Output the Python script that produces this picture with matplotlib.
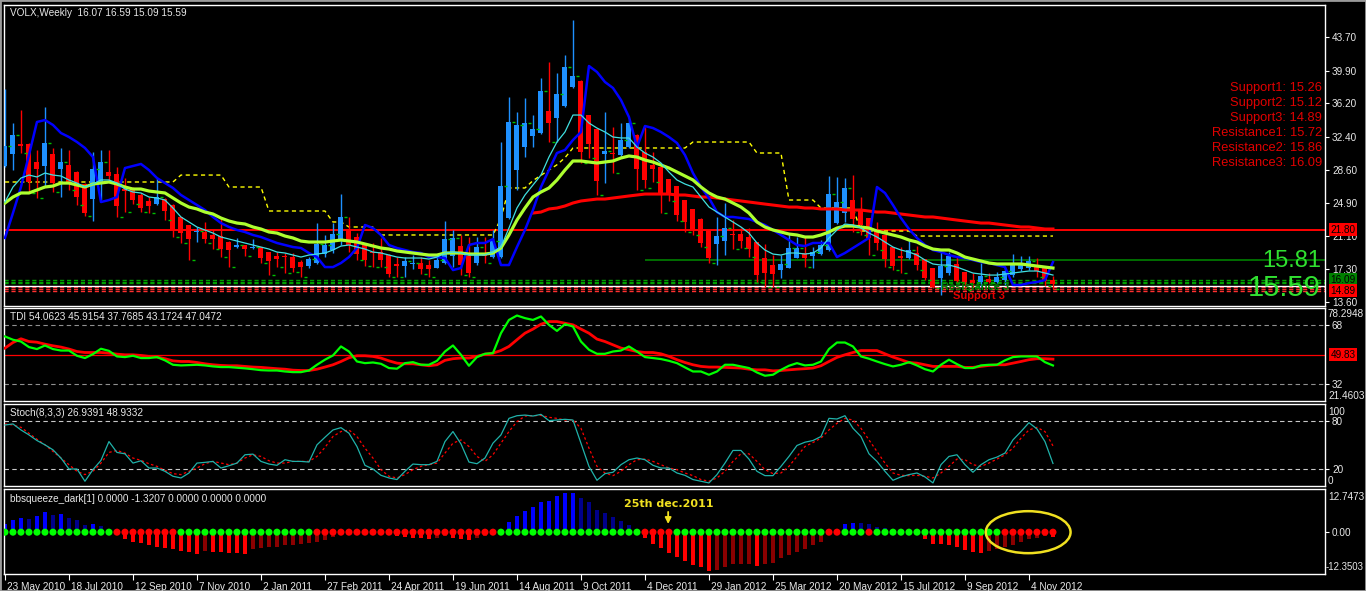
import matplotlib
matplotlib.use('Agg')
import matplotlib.pyplot as plt
import numpy as np
from matplotlib.patches import Ellipse, Rectangle

# ---------------- DATA ----------------
x_labels = ["23 May 2010", "18 Jul 2010", "12 Sep 2010", "7 Nov 2010", "2 Jan 2011",
            "27 Feb 2011", "24 Apr 2011", "19 Jun 2011", "14 Aug 2011", "9 Oct 2011",
            "4 Dec 2011", "29 Jan 2012", "25 Mar 2012", "20 May 2012", "15 Jul 2012",
            "9 Sep 2012", "4 Nov 2012"]

opens = [29.06, 30.42, 31.56, 31.56, 29.51, 29.06, 30.42, 28.72, 29.17, 28.38,
         27.01, 25.30, 27.12, 28.38, 28.15, 26.44, 26.33, 25.76, 25.08, 24.73,
         25.30, 24.62, 23.26, 22.35, 21.55, 21.55, 21.21, 21.09, 20.41, 19.84,
         20.07, 19.73, 19.84, 19.27, 18.82, 18.82, 18.70, 18.13, 17.68, 18.02,
         19.04, 19.50, 20.52, 21.89, 20.98, 20.07, 19.27, 19.27, 18.93, 17.91,
         17.68, 17.91, 18.02, 17.79, 17.45, 18.02, 18.82, 19.95, 18.82, 18.02,
         18.93, 18.70, 18.70, 23.14, 28.60, 31.22, 32.47, 32.81, 35.32, 34.52,
         35.89, 38.05, 38.73, 34.86, 33.27, 30.42, 30.54, 30.31, 31.22, 32.59,
         30.65, 29.17, 28.95, 27.58, 26.78, 25.19, 24.17, 23.03, 21.66, 20.18,
         20.52, 21.32, 21.32, 20.98, 20.41, 18.59, 17.79, 17.22, 17.45, 18.59,
         19.16, 18.82, 19.04, 19.50, 22.57, 23.71, 25.19, 24.17, 23.14, 21.89,
         21.21, 19.84, 18.82, 18.59, 19.16, 18.47, 17.45, 16.31, 16.88, 17.91,
         17.00, 16.08, 15.86, 16.20, 15.86, 16.08, 16.65, 17.34, 17.45, 17.79,
         17.45, 16.07]
highs = [37.82, 33.95, 35.43, 31.70, 30.88, 35.77, 31.11, 31.11, 30.88, 28.50,
         27.12, 30.65, 30.88, 30.88, 28.95, 27.69, 26.67, 25.99, 25.53, 27.69,
         25.42, 24.70, 23.30, 22.40, 22.12, 22.69, 21.78, 23.26, 20.50, 20.87,
         20.10, 20.75, 19.90, 19.30, 19.27, 19.16, 19.16, 18.36, 18.70, 22.57,
         21.21, 22.57, 25.87, 23.26, 21.43, 20.10, 20.30, 20.87, 19.00, 18.70,
         18.70, 18.93, 18.70, 18.36, 18.93, 22.80, 21.78, 21.21, 20.98, 20.98,
         20.98, 21.78, 31.79, 36.91, 35.20, 36.80, 34.86, 39.07, 40.89, 39.64,
         41.69, 45.67, 38.80, 34.90, 33.30, 35.20, 33.50, 33.95, 34.29, 32.65,
         33.50, 30.65, 29.00, 27.60, 26.80, 25.20, 24.20, 23.10, 21.70, 23.26,
         24.85, 22.91, 22.00, 22.00, 20.45, 20.18, 18.93, 18.93, 21.43, 20.98,
         20.98, 19.84, 20.64, 27.92, 27.81, 27.69, 28.03, 25.53, 23.20, 22.69,
         21.25, 19.90, 19.84, 20.64, 19.95, 18.50, 17.50, 19.27, 19.27, 18.82,
         17.05, 16.88, 18.02, 16.88, 17.00, 17.56, 19.04, 18.82, 18.82, 18.59,
         17.56, 16.59]
lows = [28.95, 28.60, 30.54, 25.99, 25.42, 26.67, 26.10, 25.53, 26.33, 24.62,
        23.37, 22.80, 25.19, 27.24, 23.26, 23.82, 24.73, 23.82, 23.71, 24.62,
        22.91, 20.98, 20.30, 18.36, 20.41, 20.30, 19.61, 18.70, 17.56, 19.73,
        18.82, 19.61, 18.02, 16.65, 17.56, 16.88, 17.00, 16.43, 17.45, 17.90,
        18.70, 19.16, 20.07, 19.27, 18.36, 17.68, 17.56, 17.56, 16.43, 16.43,
        16.43, 17.34, 16.77, 16.43, 17.40, 17.91, 17.56, 16.65, 16.43, 17.79,
        18.02, 18.59, 18.60, 23.03, 26.33, 30.08, 31.22, 32.70, 31.79, 31.79,
        35.77, 37.93, 29.40, 29.97, 25.76, 27.12, 28.26, 30.08, 31.11, 26.33,
        26.56, 27.24, 23.71, 25.08, 22.80, 21.55, 21.21, 19.84, 18.02, 17.79,
        18.93, 19.61, 19.73, 18.70, 15.86, 15.29, 15.29, 16.31, 17.40, 18.55,
        17.56, 17.45, 18.93, 19.39, 22.50, 22.69, 21.55, 21.21, 18.93, 19.50,
        17.56, 17.22, 16.88, 18.47, 17.22, 16.08, 15.18, 14.38, 16.65, 15.86,
        14.95, 15.29, 15.29, 15.74, 15.74, 15.52, 16.43, 17.11, 17.22, 16.43,
        15.40, 15.09]
closes = [31.34, 32.59, 31.34, 27.24, 28.72, 31.68, 27.12, 29.51, 27.12, 25.53,
          23.71, 28.72, 29.51, 27.92, 24.51, 26.21, 25.19, 24.28, 24.51, 25.53,
          23.94, 21.78, 21.43, 20.75, 21.66, 20.75, 20.75, 19.61, 19.50, 20.07,
          19.61, 19.84, 18.59, 18.25, 18.47, 18.70, 17.45, 17.56, 18.47, 20.18,
          20.07, 21.32, 23.26, 20.07, 19.04, 18.36, 19.16, 18.36, 16.77, 17.68,
          18.25, 18.02, 17.34, 17.34, 18.36, 20.75, 20.87, 17.79, 16.88, 19.84,
          18.82, 20.52, 26.78, 34.07, 33.73, 33.95, 33.27, 37.59, 33.95, 37.25,
          40.32, 39.30, 30.65, 31.56, 27.35, 30.77, 30.42, 32.02, 33.95, 28.72,
          27.47, 28.72, 25.99, 25.99, 23.48, 22.69, 21.89, 20.30, 18.59, 21.09,
          22.00, 21.21, 20.52, 19.61, 16.65, 16.88, 16.77, 17.91, 19.73, 19.73,
          18.59, 19.27, 20.07, 25.87, 24.96, 26.56, 23.03, 22.35, 20.87, 20.30,
          18.47, 17.68, 18.59, 19.50, 17.79, 16.31, 15.29, 17.68, 18.82, 15.97,
          15.86, 15.74, 16.54, 15.86, 16.43, 17.11, 17.91, 17.91, 18.25, 17.11,
          15.97, 15.59]

ma_fast = [24.96, 26.67, 27.69, 28.03, 27.81, 28.26, 28.03, 27.92, 27.47, 27.12,
           26.67, 27.01, 27.47, 27.47, 27.12, 26.44, 26.10, 25.99, 25.53, 25.42,
           25.19, 24.28, 23.26, 22.69, 22.12, 21.78, 21.43, 20.98, 20.75, 20.52,
           20.30, 20.07, 19.84, 19.61, 19.27, 19.16, 18.93, 18.70, 18.93, 19.04,
           19.16, 19.50, 19.95, 20.07, 19.84, 19.61, 19.27, 19.16, 18.93, 18.70,
           18.59, 18.59, 18.59, 18.47, 18.70, 19.16, 19.27, 19.16, 18.93, 18.93,
           18.93, 19.27, 19.84, 22.00, 24.28, 25.76, 26.90, 28.03, 30.08, 31.79,
           32.93, 34.86, 34.86, 33.95, 33.38, 32.93, 32.36, 32.25, 32.25, 31.22,
           30.54, 30.08, 29.40, 28.38, 27.47, 27.01, 26.67, 25.53, 24.39, 23.82,
           23.26, 22.69, 22.12, 21.43, 20.30, 19.50, 19.04, 18.93, 19.16, 19.16,
           19.04, 19.16, 19.73, 20.87, 21.78, 22.46, 22.35, 22.00, 21.43, 20.98,
           20.41, 19.84, 19.50, 19.27, 18.93, 18.36, 17.91, 17.79, 17.79, 17.56,
           17.22, 16.88, 16.77, 16.65, 16.65, 16.77, 16.88, 17.00, 17.11, 17.11,
           16.88, 16.65]
ma_slow = [24.85, 25.53, 25.99, 25.99, 26.33, 26.67, 26.78, 27.12, 27.12, 26.90,
           26.67, 27.01, 27.12, 27.24, 27.01, 26.67, 26.44, 26.44, 26.21, 26.10,
           25.99, 25.42, 24.85, 24.39, 24.17, 23.82, 23.60, 23.14, 22.80, 22.57,
           22.46, 22.12, 21.89, 21.55, 21.43, 21.09, 20.87, 20.52, 20.41, 20.41,
           20.41, 20.52, 20.64, 20.52, 20.41, 20.18, 19.95, 19.73, 19.61, 19.39,
           19.27, 19.16, 19.04, 18.93, 18.93, 19.16, 19.16, 19.16, 19.04, 19.04,
           19.04, 19.16, 19.73, 21.21, 22.91, 24.28, 25.53, 26.10, 26.56, 27.47,
           28.60, 29.63, 29.63, 29.51, 29.40, 29.51, 29.63, 29.97, 30.20, 30.08,
           29.74, 29.51, 29.17, 28.83, 28.38, 27.92, 27.47, 26.67, 25.99, 25.53,
           25.30, 24.85, 24.39, 23.71, 22.69, 22.12, 21.78, 21.55, 21.32, 21.21,
           20.98, 20.98, 21.21, 21.55, 22.00, 22.23, 22.23, 22.12, 22.00, 21.66,
           21.43, 21.21, 20.98, 20.64, 20.41, 19.95, 19.61, 19.50, 19.50, 19.16,
           18.70, 18.47, 18.25, 18.02, 17.91, 17.91, 17.91, 17.91, 17.79, 17.68,
           17.56, 17.45]
band_blue = [20.87, 23.71, 26.67, 30.31, 34.07, 34.29, 33.73, 32.81, 32.36, 31.79,
             31.11, 30.08, 24.96, 25.19, 25.53, 28.83, 29.06, 29.29, 28.60, 27.69,
             27.12, 26.56, 25.76, 25.19, 24.62, 24.05, 23.26, 22.57, 22.12, 21.78,
             21.55, 21.21, 20.98, 20.64, 20.30, 20.07, 19.84, 19.73, 19.16, 18.70,
             17.56, 17.56, 18.02, 18.70, 19.73, 22.35, 22.00, 21.21, 20.07, 19.73,
             19.50, 19.27, 19.16, 18.70, 18.70, 18.59, 17.22, 17.45, 20.07, 20.30,
             20.30, 20.75, 17.79, 17.79, 19.84, 21.78, 24.05, 26.67, 28.60, 30.54,
             30.88, 32.02, 32.93, 40.44, 39.76, 38.62, 37.94, 36.57, 34.63, 31.22,
             33.61, 33.38, 32.93, 32.36, 31.68, 30.31, 28.26, 26.67, 25.42, 23.82,
             23.26, 23.26, 23.14, 23.03, 22.69, 22.35, 21.78, 21.21, 20.64, 20.07,
             19.95, 20.30, 20.30, 20.30, 18.70, 19.16, 19.73, 20.30, 20.87, 26.67,
             25.99, 24.62, 23.14, 21.89, 20.87, 20.07, 19.50, 19.27, 18.93, 18.70,
             18.59, 18.36, 18.13, 18.02, 17.79, 17.56, 15.52, 15.52, 15.74, 15.86,
             16.08, 18.13]
ma_long = [np.nan] * 66 + [
    23.71, 23.82, 24.17, 24.28, 24.51, 24.85, 25.08, 25.19, 25.30, 25.30,
    25.42, 25.53, 25.65, 25.76, 25.87, 25.87, 25.87, 25.87, 25.76, 25.76,
    25.65, 25.53, 25.53, 25.42, 25.30, 25.19, 25.08, 24.96, 24.85, 24.73,
    24.62, 24.51, 24.39, 24.39, 24.28, 24.28, 24.17, 24.17, 24.17, 24.05,
    24.05, 24.05, 23.94, 23.82, 23.82, 23.71, 23.60, 23.48, 23.37, 23.26,
    23.26, 23.14, 23.03, 22.91, 22.80, 22.69, 22.57, 22.57, 22.46, 22.35,
    22.23, 22.12, 22.12, 22.00, 21.89, 21.89]
step_yellow = ([27.24] * 22 + [28.03] * 6 + [26.67] * 5 + [23.94] * 8 + [22.69] * 2 +
               [22.12] * 4 + [21.21] * 15 + [23.10] + [26.56] * 3 +
               [27.40, 28.00, 28.60, 29.20, 30.00] + [31.11] * 15 + [31.79] * 8 +
               [30.54] * 4 + [25.19] * 4 + [24.28] * 5 + [21.66] * 7 + [21.09] * 18)

level_red = 21.80
level_green = 18.36
level_green_start = 80
resist = [15.72, 15.86, 16.09]
support = [15.26, 15.12, 14.89]
pivot = 15.45

tdi_green = [60.9, 58.9, 57.8, 54.4, 53.2, 55.4, 53.2, 52.3, 52.3, 49.1,
             47.7, 50.1, 53.4, 52.1, 48.7, 48.3, 49.1, 47.7, 47.7, 48.3,
             46.3, 43.6, 43.2, 43.4, 43.6, 43.2, 42.6, 42.2, 42.2, 41.8,
             41.4, 40.9, 40.3, 40.1, 40.1, 39.5, 39.1, 39.1, 40.1, 43.6,
             46.7, 49.3, 54.8, 51.7, 45.6, 44.6, 45.0, 44.2, 41.6, 41.2,
             44.6, 45.2, 43.6, 43.6, 46.0, 51.7, 55.4, 49.7, 43.0, 48.3,
             50.3, 50.7, 62.9, 71.0, 73.7, 72.1, 71.0, 73.1, 68.0, 64.3,
             68.4, 67.0, 57.8, 52.8, 50.3, 50.3, 51.7, 52.3, 54.8, 51.7,
             48.3, 47.7, 47.1, 46.0, 44.6, 42.0, 39.5, 39.5, 37.5, 39.5,
             43.6, 43.6, 42.6, 41.6, 38.9, 36.9, 37.5, 40.5, 43.0, 44.6,
             43.2, 43.6, 45.6, 53.2, 57.2, 57.2, 54.8, 48.7, 47.3, 45.6,
             44.0, 42.6, 43.6, 45.2, 43.2, 40.9, 39.5, 43.6, 46.7, 44.0,
             41.6, 41.6, 43.2, 43.6, 43.6, 46.3, 48.3, 48.7, 48.7, 48.7,
             45.2, 43.17]
tdi_red = [53.8, 57.2, 59.5, 57.8, 57.4, 56.2, 55.2, 54.4, 53.2, 51.7,
           51.1, 51.1, 51.1, 50.7, 50.1, 49.7, 49.7, 49.3, 48.7, 48.3,
           47.3, 46.0, 45.6, 45.6, 45.0, 44.2, 43.6, 43.2, 43.0, 43.0,
           42.6, 42.2, 42.0, 41.6, 41.2, 40.9, 40.3, 40.1, 40.1, 40.9,
           42.2, 43.6, 45.6, 47.9, 49.1, 49.1, 48.7, 47.7, 46.0, 44.6,
           44.2, 44.2, 43.6, 43.0, 43.6, 46.3, 47.3, 47.7, 47.7, 48.7,
           50.1, 50.7, 52.3, 54.8, 58.9, 62.9, 65.4, 68.4, 70.0, 70.0,
           69.0, 68.0, 65.4, 62.9, 59.3, 57.8, 55.8, 53.8, 52.8, 51.7,
           51.1, 51.1, 50.3, 48.7, 46.7, 45.0, 43.6, 42.6, 42.2, 42.2,
           42.0, 41.8, 41.6, 40.9, 40.5, 40.5, 39.9, 40.1, 40.5, 40.9,
           41.2, 41.6, 43.0, 45.6, 48.1, 49.7, 51.1, 52.3, 52.3, 52.3,
           50.3, 48.3, 46.7, 45.0, 44.6, 43.6, 42.6, 42.6, 42.6, 42.6,
           42.0, 42.0, 42.6, 43.2, 43.6, 43.6, 44.6, 45.6, 46.7, 47.3,
           47.3, 47.05]
tdi_mid_level = 49.83

stoch_main = [75.0, 76.3, 68.8, 62.6, 55.6, 50.2, 44.0, 33.7, 20.0, 20.0,
              4.7, 19.2, 30.8, 54.3, 40.7, 39.0, 27.4, 30.3, 21.2, 21.2,
              17.1, 10.9, 8.8, 15.0, 27.4, 28.3, 29.5, 21.2, 24.1, 27.4,
              37.8, 38.6, 29.5, 26.2, 24.6, 31.6, 29.5, 29.5, 28.7, 50.2,
              59.7, 68.8, 71.7, 64.7, 48.1, 24.6, 20.0, 12.1, 8.8, 6.8,
              17.1, 26.2, 25.4, 25.4, 29.5, 54.3, 66.8, 51.4, 28.7, 26.6,
              33.7, 52.3, 62.6, 83.3, 86.6, 87.4, 86.2, 88.3, 80.4, 81.2,
              82.1, 81.2, 52.3, 23.3, 5.9, 14.2, 15.9, 25.4, 31.6, 33.7,
              31.6, 24.6, 21.2, 21.2, 15.0, 12.1, 6.8, 4.7, 2.6, 13.0,
              27.4, 43.2, 43.2, 32.4, 17.1, 11.7, 11.7, 23.3, 35.7, 49.4,
              53.5, 55.6, 60.6, 83.3, 82.5, 86.6, 70.9, 60.6, 39.0, 29.5,
              17.1, 5.9, 10.1, 13.0, 15.0, 10.1, 2.6, 25.4, 35.7, 37.8,
              25.4, 15.9, 25.4, 31.6, 34.9, 39.9, 56.4, 66.8, 77.9, 70.1,
              54.3, 26.94]
stoch_signal = [76.3, 75.0, 72.1, 64.7, 57.2, 50.2, 41.9, 33.7, 25.4, 17.1,
                13.0, 17.1, 27.4, 40.7, 43.2, 39.9, 33.7, 30.8, 26.6, 23.3,
                18.3, 14.2, 13.0, 17.1, 21.2, 26.6, 29.5, 27.4, 25.4, 27.4,
                33.7, 37.8, 35.7, 30.3, 27.4, 27.4, 29.5, 29.5, 29.5, 35.7,
                46.9, 60.6, 66.8, 68.8, 60.6, 46.1, 33.7, 19.2, 10.9, 8.8,
                13.0, 19.2, 23.3, 25.4, 27.4, 39.9, 52.3, 56.4, 48.1, 35.7,
                29.5, 37.8, 52.3, 66.8, 79.2, 86.2, 86.6, 87.0, 84.6, 83.3,
                81.2, 81.2, 70.9, 46.1, 23.3, 15.0, 11.7, 17.1, 25.4, 31.6,
                32.4, 29.5, 25.4, 21.2, 19.2, 15.0, 11.7, 6.8, 4.7, 8.8,
                17.1, 29.5, 39.0, 39.0, 29.5, 19.2, 14.2, 15.0, 23.3, 35.7,
                48.1, 53.1, 58.5, 68.8, 77.1, 83.3, 81.2, 70.9, 56.4, 41.9,
                27.4, 15.0, 12.1, 11.7, 12.1, 10.9, 8.8, 15.0, 23.3, 32.4,
                31.6, 25.4, 23.3, 27.4, 32.4, 37.8, 46.1, 58.5, 68.8, 72.1,
                66.8, 48.93]

squeeze_hist = [2.5, 3.5, 4.1, 4.0, 4.9, 5.9, 5.2, 5.4, 4.1, 3.5,
                2.2, 2.4, 1.8, 0.0, 0.0, -2.0, -3.0, -3.2, -3.8, -4.3,
                -4.6, -5.1, -5.6, -6.0, -6.3, -5.7, -5.9, -6.0, -6.1, -6.2,
                -6.3, -5.1, -4.6, -4.4, -4.3, -3.8, -3.7, -3.6, -3.3, -3.0,
                -2.2, -1.5, -0.6, 0.0, 0.0, 0.0, 0.0, 0.0, 0.0, -1.0,
                -1.4, -1.6, -1.8, -2.0, -1.8, -1.2, -1.6, -2.0, -2.4, -1.8,
                -1.2, -0.8, 0.0, 2.9, 4.9, 6.2, 7.5, 8.9, 9.3, 10.6,
                11.5, 11.7, 10.1, 8.8, 6.6, 5.7, 4.5, 3.3, 2.2, 0.0,
                -1.6, -3.5, -4.6, -6.2, -7.2, -8.5, -9.6, -10.4, -11.6, -11.2,
                -10.4, -9.5, -9.5, -9.4, -9.9, -9.4, -9.2, -7.6, -6.7, -6.0,
                -5.1, -3.8, -3.0, 0.0, 0.0, 2.4, 2.7, 2.6, 2.4, 1.6,
                1.2, 0.0, 0.0, 0.0, 0.0, -2.0, -3.4, -3.6, -3.8, -4.3,
                -5.3, -5.9, -6.2, -5.6, -5.1, -4.5, -3.8, -2.9, -2.1, -1.6,
                -1.2, -1.32]
# 1 = no squeeze (green dot), 0 = squeeze (red dot)
squeeze_off = ([1] * 14 + [0] * 8 + [1] * 17 + [0] * 23 + [1] * 18 + [0] * 4 +
               [1] * 19 + [0] * 2 + [1] * 3 + [0] + [1] * 16 + [0] * 7)

sr_text = ["Support1: 15.26", "Support2: 15.12", "Support3: 14.89",
           "Resistance1: 15.72", "Resistance2: 15.86", "Resistance3: 16.09"]

# ---------------- FIGURE ----------------
W, H = 1366, 591
fig = plt.figure(figsize=(W / 100, H / 100), dpi=100, facecolor='black')
FONT = 'Liberation Sans'
FS = 7.2
TXT = '#e8e8e8'
XL, XR = 4, 1325
xmin = -0.12
xmax = xmin + (XR - XL) / 8.0


def add_panel(y0, y1):
    a = fig.add_axes([XL / W, 1 - y1 / H, (XR - XL) / W, (y1 - y0) / H])
    a.set_facecolor('black')
    for s in a.spines.values():
        s.set_color('white')
        s.set_linewidth(1.0)
    a.set_xlim(xmin, xmax)
    a.set_xticks([])
    a.yaxis.tick_right()
    a.tick_params(axis='y', colors='white', labelcolor=TXT, labelsize=FS,
                  length=3, width=0.8, pad=2)
    return a


def ftext(xp, yp, s, **kw):
    fig.text(xp / W, 1 - yp / H, s, **kw)


ax = add_panel(5, 306)
ax_tdi = add_panel(308, 401)
ax_st = add_panel(404, 486)
ax_sq = add_panel(489, 574)

n = len(opens)
xs = np.arange(n)
o = np.array(opens); c = np.array(closes); hi = np.array(highs); lo = np.array(lows)

# --- main panel ---
ax.set_ylim(13.13, 47.38)
main_ticks = [43.70, 39.90, 36.20, 32.40, 28.60, 24.90, 21.10, 17.30, 13.60]
ax.set_yticks(main_ticks)
ax.set_yticklabels([f"{t:.2f}" for t in main_ticks], fontsize=FS, family=FONT)

for r in resist:
    ax.axhline(r, color='#00a000', lw=1.0, ls=(0, (3, 2)), zorder=1)
for s in support:
    ax.axhline(s, color='#ff3030', lw=1.0, ls=(0, (3, 2)), zorder=1)
ax.axhline(pivot, color='white', lw=1.0, zorder=1)
ax.axhline(level_red, color='#ff0000', lw=1.4, zorder=1)
ax.hlines(level_green, level_green_start, xmax, color='#008000', lw=1.2, zorder=1)

ax.plot(xs, step_yellow, color='#ffff00', lw=1.0, ls=(0, (3, 2.5)), zorder=2)

up = c >= o
col = np.where(up, '#1e90ff', '#ff0000')
ax.vlines(xs, lo, hi, colors=col, lw=1.0, zorder=3)
ax.bar(xs, np.maximum(np.abs(c - o), 0.1), bottom=np.minimum(o, c), width=0.62,
       color=col, linewidth=0, zorder=3)
tick_y = np.where(up, c, lo)
ax.hlines(tick_y, xs + 0.35, xs + 0.7, colors='#00c000', lw=1.0, zorder=3)

ax.plot(xs, ma_long, color='#ff0000', lw=2.2, zorder=4)
ax.plot(xs, band_blue, color='#0000ff', lw=1.8, zorder=5)
ax.plot(xs, ma_slow, color='#adff2f', lw=2.3, zorder=5)
ax.plot(xs, ma_fast, color='#40e0e0', lw=0.9, zorder=6)

# overlapping S/R captions near the last bars
ax.text(117, resist[1], "Resistance 3", color='#008000', fontsize=8, family=FONT,
        fontweight='bold', va='top', ha='left', zorder=7)
ax.text(118.5, support[2], "Support 3", color='#e00000', fontsize=8, family=FONT,
        fontweight='bold', va='top', ha='left', zorder=7)

ftext(10, 12.5, "VOLX,Weekly  16.07 16.59 15.09 15.59", color=TXT, fontsize=FS,
      family=FONT, va='center', ha='left')
for k, s in enumerate(sr_text):
    ftext(1322, 88 + 15 * k, s, color='#e00000', fontsize=9.3, family=FONT,
          va='center', ha='right')
ftext(1321, 261, "15.81", color='#30e030', fontsize=17, family=FONT,
      va='center', ha='right')
ftext(1321, 288, "15.59", color='#30e030', fontsize=21, family=FONT,
      va='center', ha='right')


def box_label(a, y, s, fc, tc='black'):
    a.annotate(s, xy=(1.0, y), xycoords=('axes fraction', 'data'), xytext=(4, 0),
               textcoords='offset points', fontsize=FS, family=FONT, color=tc,
               va='center', ha='left',
               bbox=dict(boxstyle='square,pad=0.15', fc=fc, ec='none'))


box_label(ax, level_red, "21.80", '#ff0000')
box_label(ax, resist[2], "16.09", '#008000')
box_label(ax, support[2], "14.89", '#ff0000')

# --- TDI ---
ax_tdi.set_ylim(21.4603, 78.2948)
ax_tdi.set_yticks([68, 32])
ax_tdi.set_yticklabels(['68', '32'], fontsize=FS, family=FONT)
for lv in (68, 32):
    ax_tdi.axhline(lv, color='#909090', lw=0.8, ls=(0, (4, 3)))
ax_tdi.axhline(tdi_mid_level, color='#ff0000', lw=0.9)
ax_tdi.plot(xs, tdi_red, color='#ff0000', lw=2.0, zorder=3)
ax_tdi.plot(xs, tdi_green, color='#00ff00', lw=1.6, zorder=4)
box_label(ax_tdi, tdi_mid_level, "49.83", '#ff0000')
ftext(10, 317, "TDI 54.0623 45.9154 37.7685 43.1724 47.0472", color=TXT, fontsize=FS,
      family=FONT, va='center', ha='left')
ftext(1328, 314.5, "78.2948", color=TXT, fontsize=FS, family=FONT, va='center')
ftext(1328, 396, "21.4603", color=TXT, fontsize=FS, family=FONT, va='center')

# --- Stochastic ---
ax_st.set_ylim(-1.25, 101.25)
ax_st.set_yticks([80, 20])
ax_st.set_yticklabels(['80', '20'], fontsize=FS, family=FONT)
for lv in (80, 20):
    ax_st.axhline(lv, color='#c8c8c8', lw=0.8, ls=(0, (4, 3)))
ax_st.plot(xs, stoch_signal, color='#ff0000', lw=0.9, ls=(0, (2, 2)), zorder=3)
ax_st.plot(xs, stoch_main, color='#20b2aa', lw=0.9, zorder=4)
ftext(10, 413, "Stoch(8,3,3) 26.9391 48.9332", color=TXT, fontsize=FS, family=FONT,
      va='center', ha='left')
ftext(1328, 412, "100", color=TXT, fontsize=FS, family=FONT, va='center')
ftext(1328, 481, "0", color=TXT, fontsize=FS, family=FONT, va='center')

# --- bbsqueeze ---
ax_sq.set_ylim(-12.3503, 12.7473)
ax_sq.set_yticks([0])
ax_sq.set_yticklabels(['0.00'], fontsize=FS, family=FONT)
hv = np.array(squeeze_hist)
prev = np.concatenate([[0.0], hv[:-1]])
grow = np.abs(hv) > np.abs(prev)
hcol = np.where(hv >= 0, np.where(grow, '#0000ff', '#00008b'),
                np.where(grow, '#ff0000', '#8b0000'))
ax_sq.bar(xs, hv, width=0.55, color=hcol, linewidth=0, zorder=2)
dcol = np.where(np.array(squeeze_off) == 1, '#00ff00', '#ff0000')
ax_sq.scatter(xs, np.zeros(n), s=26, c=dcol, linewidths=0, zorder=3)
ax_sq.add_patch(Ellipse((127.9, 0.0), width=10.6, height=12.4, fill=False,
                        edgecolor='#f0e020', lw=1.8, zorder=4))
ax_sq.annotate("", xy=(82.9, 1.6), xytext=(82.9, 6.8),
               arrowprops=dict(arrowstyle='-|>', color='#f0e020', lw=1.3,
                               mutation_scale=9), zorder=5)
ftext(624, 504, "25th dec.2011", color='#f0e020', fontsize=8, family='DejaVu Sans',
      fontweight='bold', va='center', ha='left')
ftext(10, 499, "bbsqueeze_dark[1] 0.0000 -1.3207 0.0000 0.0000 0.0000", color=TXT,
      fontsize=FS, family=FONT, va='center', ha='left')
ftext(1328, 497, "12.7473", color=TXT, fontsize=FS, family=FONT, va='center')
ftext(1326, 567, "-12.3503", color=TXT, fontsize=6.9, family=FONT, va='center')

# x axis labels
tick_pos = np.arange(0, 8 * len(x_labels), 8)
ax_sq.set_xticks(tick_pos)
ax_sq.set_xticklabels([])
ax_sq.tick_params(axis='x', colors='white', length=4, width=0.8, direction='out')
for p, lab in zip(tick_pos, x_labels):
    ftext(XL + (p - xmin) * 8 + 2, 587, lab, color=TXT, fontsize=FS, family=FONT,
          va='center', ha='left')

fig.add_artist(Rectangle((0, 0), 1, 1, transform=fig.transFigure, fill=False,
                         edgecolor='#9a9a9a', lw=2))

fig.savefig('out.png', dpi=100, facecolor='black')
